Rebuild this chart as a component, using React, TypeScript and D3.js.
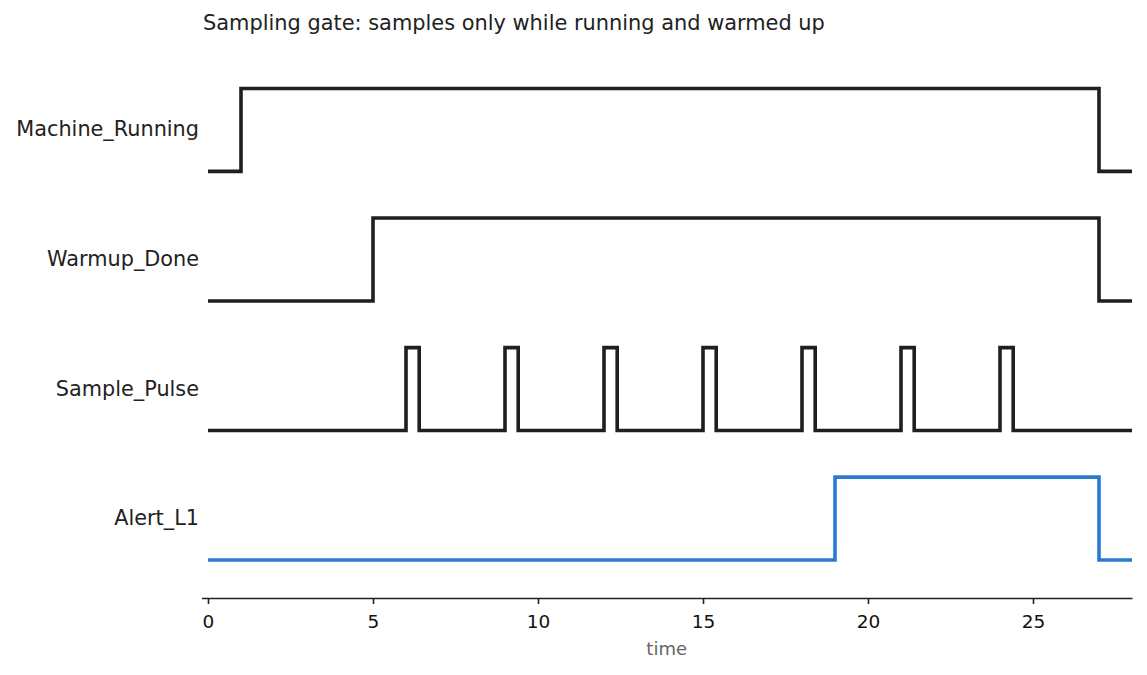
import { useRef, useEffect } from 'react';
import * as d3 from 'd3';

// step signals: [time, level] points, each level holds until the next point
const signalNames = ['Machine_Running', 'Warmup_Done', 'Sample_Pulse', 'Alert_L1'];
const machineRunning: [number, number][] = [[0, 0], [1, 1], [27, 0], [28, 0]];
const warmupDone: [number, number][] = [[0, 0], [5, 1], [27, 0], [28, 0]];
const pulseStarts = [6, 9, 12, 15, 18, 21, 24];
const pulseWidth = 0.4;
const alertL1: [number, number][] = [[0, 0], [19, 1], [27, 0], [28, 0]];
const signalColors = ['#1f1f1f', '#1f1f1f', '#1f1f1f', '#2a79d3'];
const xTicks = [0, 5, 10, 15, 20, 25];

const samplePulse: [number, number][] = [[0, 0]];
pulseStarts.forEach((t) => {
  samplePulse.push([t, 1]);
  samplePulse.push([t + pulseWidth, 0]);
});
samplePulse.push([28, 0]);

const signals = [machineRunning, warmupDone, samplePulse, alertL1];

const W = 1147;
const H = 675;

export default function App() {
  const svgRef = useRef<SVGSVGElement>(null);

  useEffect(() => {
    if (!svgRef.current) return;
    const svg = d3.select(svgRef.current);
    svg.selectAll('*').remove();

    const font = 'DejaVu Sans, sans-serif';
    const rowStep = 1.25;
    const high = 0.8;
    const n = signals.length;

    const x = d3.scaleLinear().domain([-0.2, 28]).range([201.4, 1132]);
    const y = d3.scaleLinear().domain([-0.366, (n - 1) * rowStep + high]).range([598, 88.5]);

    const offset = (i: number) => (n - 1 - i) * rowStep;

    // title
    svg.append('text')
      .attr('x', 203)
      .attr('y', 30)
      .attr('font-family', font)
      .attr('font-size', '20.9px')
      .attr('fill', '#222')
      .text('Sampling gate: samples only while running and warmed up');

    // traces
    signals.forEach((pts, i) => {
      const line = d3.line<[number, number]>()
        .x((d) => x(d[0]))
        .y((d) => y(offset(i) + d[1] * high))
        .curve(d3.curveStepAfter);
      svg.append('path')
        .attr('d', line(pts))
        .attr('fill', 'none')
        .attr('stroke', signalColors[i])
        .attr('stroke-width', 3.6)
        .attr('stroke-linejoin', 'miter');
    });

    // row labels
    svg.selectAll('text.row-label')
      .data(signalNames)
      .join('text')
      .attr('class', 'row-label')
      .attr('x', 199)
      .attr('y', (_, i) => y(offset(i) + high / 2) - 0.5)
      .attr('text-anchor', 'end')
      .attr('dominant-baseline', 'central')
      .attr('font-family', font)
      .attr('font-size', '20.8px')
      .attr('fill', '#222')
      .text((d) => d);

    // x axis
    const axis = svg.append('g')
      .attr('transform', `translate(0,${598})`)
      .call(d3.axisBottom(x).tickValues(xTicks).tickSize(6).tickPadding(10.5).tickSizeOuter(0));
    axis.select('.domain').attr('stroke', '#222').attr('stroke-width', 1.6);
    axis.selectAll('.tick line').attr('stroke', '#222').attr('stroke-width', 1.6);
    axis.selectAll('.tick text')
      .attr('font-family', font)
      .attr('font-size', '18.5px')
      .attr('fill', '#111');

    const [r0, r1] = x.range();
    svg.append('text')
      .attr('x', (r0 + r1) / 2)
      .attr('y', 655)
      .attr('text-anchor', 'middle')
      .attr('font-family', font)
      .attr('font-size', '18px')
      .attr('fill', '#666')
      .text('time');
  }, []);

  return (
    <svg
      ref={svgRef}
      width={W}
      height={H}
      viewBox={`0 0 ${W} ${H}`}
      style={{ position: 'absolute', left: 0, top: 0, background: '#fff' }}
    />
  );
}
